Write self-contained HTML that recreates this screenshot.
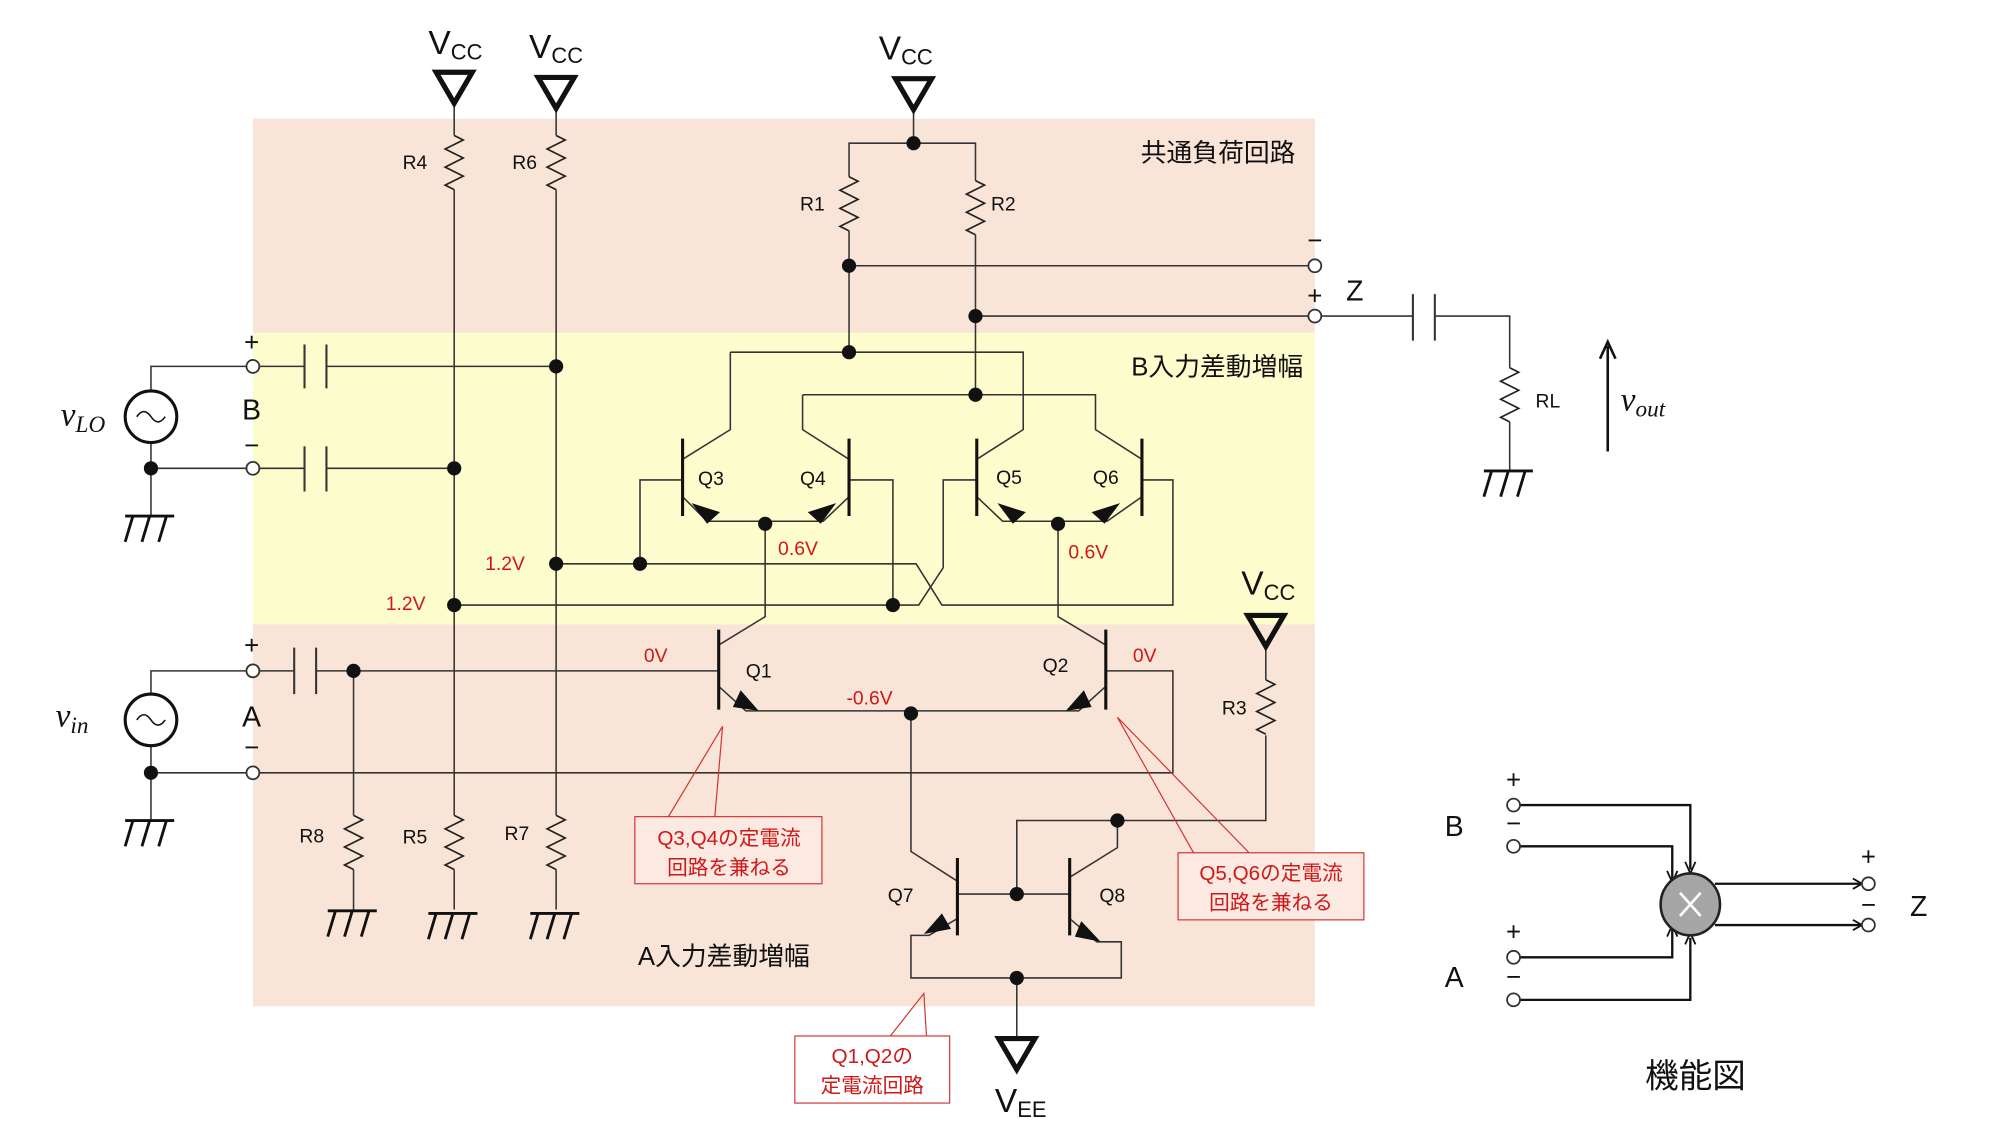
<!DOCTYPE html>
<html><head><meta charset="utf-8"><style>
html,body{margin:0;padding:0;background:#fff;}
svg{display:block;}
text{font-family:"Liberation Sans","Noto Sans CJK JP",sans-serif;}
</style></head><body>
<svg width="2000" height="1125" viewBox="0 0 1550 872" preserveAspectRatio="none" xmlns="http://www.w3.org/2000/svg">
<defs>
<path id="res" d="M0 0 l7 3.5 l-14 7 l14 7 l-14 7 l14 7 l-14 7 l7 3.5" fill="none" stroke="#222" stroke-width="1.3"/>
<path id="gnd" d="M-20 0 h38 M-14 0 l-6 20 M-1 0 l-6 20 M12 0 l-6 20" fill="none" stroke="#111" stroke-width="2.2"/>
<polygon id="vcc" points="-14,0 14,0 0,24" fill="none" stroke="#111" stroke-width="4" stroke-linejoin="miter"/>
</defs>
<rect x="196" y="92" width="823" height="166" fill="#f9e4d8"/>
<rect x="196" y="258" width="823" height="226" fill="#fdfccd"/>
<rect x="196" y="484" width="823" height="296" fill="#f9e4d8"/>

<g fill="none" stroke="#333" stroke-width="1.2">
<path d="M352 80 V105 M352 147 V632 M352 674 V705"/>
<path d="M431 84 V105 M431 147 V632 M431 674 V705"/>
<path d="M274 520 V632 M274 674 V705"/>
<path d="M708 85 V111 M658 137 V111 H756 V140 M658 179 V273 M756 182 V306"/>
<path d="M658 206 H1014 M756 245 H1014"/>
<path d="M566 273 H793 V333 L757 356"/>
<path d="M566 273 V333 L529 356"/>
<path d="M622 306 H849 V333 L885 356"/>
<path d="M622 306 V333 L658 356"/>
<path d="M529 385 L548 404 H638 L658 385"/>
<path d="M757 385 L777 404 H858 L885 385"/>
<path d="M529 372 H496 V437"/>
<path d="M658 372 H692 V469"/>
<path d="M757 372 H731 V440 L712 469 H352"/>
<path d="M885 372 H909 V469 H730 L710 437 H431"/>
<path d="M201 284 H236 M253 284 H431"/>
<path d="M201 363 H236 M253 363 H352"/>
<path d="M117 303 V284 H191 M117 343 V400 M117 363 H191"/>
<path d="M117 538 V520 H191 M117 578 V636 M117 599 H191 M201 599 H909 V520 H857"/>
<path d="M201 520 H228 M245 520 H557"/>
<path d="M593 406 V478 L557 500"/>
<path d="M820 406 V478 L857 500"/>
<path d="M557 532 L578 551 H836 L857 532"/>
<path d="M706 553 V660 L742 683"/>
<path d="M742 693 H829"/>
<path d="M829 680 L866 657 V636 H981 V570 M981 527 V500"/>
<path d="M788 693 V636 H866"/>
<path d="M742 712 L720 725 H706 V758 H869 V730 H850 L829 712"/>
<path d="M788 758 V805"/>
<path d="M1024 245 H1095 M1112 245 H1170 V285 M1170 327 V365"/>
</g>
<use href="#res" x="352" y="105"/><use href="#res" x="431" y="105"/>
<use href="#res" x="658" y="137"/><use href="#res" x="756" y="140"/>
<use href="#res" x="981" y="527"/><use href="#res" x="274" y="632"/>
<use href="#res" x="352" y="632"/><use href="#res" x="431" y="632"/>
<use href="#res" x="1170" y="285"/>
<use href="#gnd" x="117" y="400"/><use href="#gnd" x="117" y="636"/>
<use href="#gnd" x="274" y="706"/><use href="#gnd" x="352" y="708"/><use href="#gnd" x="431" y="708"/>
<use href="#gnd" x="1170" y="365"/>
<use href="#vcc" x="352" y="56"/><use href="#vcc" x="431" y="60"/><use href="#vcc" x="708" y="61"/>
<use href="#vcc" x="981" y="477"/>
<polygon points="774,805 802,805 788,829" fill="none" stroke="#111" stroke-width="4"/>
<g stroke="#333" stroke-width="1.6">
<path d="M236 267 V301 M253 267 V301 M236 346 V381 M253 346 V381 M228 502 V538 M245 502 V538 M1095 228 V264 M1112 228 V264"/>
</g>
<g stroke="#111" stroke-width="2.4">
<path d="M529 340 V400 M658 340 V400 M757 340 V400 M885 340 V400 M557 488 V550 M857 488 V550 M742 665 V725 M829 665 V725"/>
</g>
<g fill="#111">
<polygon points="548,406 536,390 558,397"/>
<polygon points="636,406 648,390 626,397"/>
<polygon points="785,406 773,390 795,397"/>
<polygon points="856,406 868,390 846,397"/>
<polygon points="588,551 574,535 568,548"/>
<polygon points="826,551 840,535 846,548"/>
<polygon points="716,724 730,708 737,720"/>
<polygon points="853,730 838,714 833,726"/>
</g>
<g fill="#111">
<circle cx="708" cy="111" r="5.5"/><circle cx="658" cy="206" r="5.5"/><circle cx="756" cy="245" r="5.5"/>
<circle cx="658" cy="273" r="5.5"/><circle cx="756" cy="306" r="5.5"/>
<circle cx="431" cy="284" r="5.5"/><circle cx="352" cy="363" r="5.5"/><circle cx="117" cy="363" r="5.5"/>
<circle cx="593" cy="406" r="5.5"/><circle cx="820" cy="406" r="5.5"/>
<circle cx="431" cy="437" r="5.5"/><circle cx="496" cy="437" r="5.5"/>
<circle cx="352" cy="469" r="5.5"/><circle cx="692" cy="469" r="5.5"/>
<circle cx="274" cy="520" r="5.5"/><circle cx="706" cy="553" r="5.5"/><circle cx="117" cy="599" r="5.5"/>
<circle cx="866" cy="636" r="5.5"/><circle cx="788" cy="693" r="5.5"/><circle cx="788" cy="758" r="5.5"/>
</g>
<g fill="#fff" stroke="#333" stroke-width="1.4">
<circle cx="196" cy="284" r="5"/><circle cx="196" cy="363" r="5"/>
<circle cx="196" cy="520" r="5"/><circle cx="196" cy="599" r="5"/>
<circle cx="1019" cy="206" r="5"/><circle cx="1019" cy="245" r="5"/>
</g>
<g fill="none" stroke="#111" stroke-width="2.4">
<circle cx="117" cy="323" r="20"/><circle cx="117" cy="558" r="20"/>
</g>
<g fill="none" stroke="#111" stroke-width="1.2">
<path d="M106 323 q5.5 -8 11 0 t11 0"/><path d="M106 558 q5.5 -8 11 0 t11 0"/>
</g>
<path d="M1246 350 V268" stroke="#111" stroke-width="2"/>
<path d="M1240 278 L1246 265 L1252 278" fill="none" stroke="#111" stroke-width="2"/>

<g fill="none" stroke="#d03030" stroke-width="0.9">
<path d="M518 633 L560 563 L554 633"/>
<rect x="492" y="633" width="145" height="52" fill="#fbe9e2"/>
<path d="M925 661 L866 556 L968 661"/>
<rect x="913" y="661" width="144" height="52" fill="#fbe9e2"/>
<path d="M690 803 L716 770 L718 803"/>
<rect x="616" y="803" width="120" height="52" fill="#fff"/>
</g>
<g fill="#d01818" font-size="16" text-anchor="middle">
<text x="565" y="655">Q3,Q4の定電流</text><text x="565" y="678">回路を兼ねる</text>
<text x="985" y="682">Q5,Q6の定電流</text><text x="985" y="705">回路を兼ねる</text>
<text x="676" y="824">Q1,Q2の</text><text x="676" y="847">定電流回路</text>
</g>
<g fill="#d01818" font-size="15">
<text x="376" y="442">1.2V</text><text x="299" y="473">1.2V</text>
<text x="603" y="430">0.6V</text><text x="828" y="433">0.6V</text>
<text x="499" y="513">0V</text><text x="656" y="546">-0.6V</text><text x="878" y="513">0V</text>
</g>
<g fill="#111" font-size="15">
<text x="541" y="376">Q3</text><text x="620" y="376">Q4</text><text x="772" y="375">Q5</text><text x="847" y="375">Q6</text>
<text x="578" y="525">Q1</text><text x="808" y="521">Q2</text><text x="688" y="699">Q7</text><text x="852" y="699">Q8</text>
<text x="312" y="131">R4</text><text x="397" y="131">R6</text><text x="620" y="163">R1</text><text x="768" y="163">R2</text>
<text x="947" y="554">R3</text><text x="232" y="653">R8</text><text x="312" y="654">R5</text><text x="391" y="651">R7</text>
<text x="1190" y="316">RL</text>
</g>
<g fill="#111" font-size="20" text-anchor="end">
<text x="1004" y="125">共通負荷回路</text>
<text x="1010" y="291">B入力差動増幅</text>
</g>
<text x="561" y="748" font-size="20" fill="#111" text-anchor="middle">A入力差動増幅</text>
<g fill="#111" font-size="26">
<text x="332" y="42">V<tspan font-size="17" dy="4">CC</tspan></text>
<text x="410" y="45">V<tspan font-size="17" dy="4">CC</tspan></text>
<text x="681" y="46">V<tspan font-size="17" dy="4">CC</tspan></text>
<text x="962" y="461">V<tspan font-size="17" dy="4">CC</tspan></text>
<text x="771" y="862">V<tspan font-size="17" dy="4">EE</tspan></text>
</g>
<g fill="#111" font-size="22" text-anchor="middle">
<text x="195" y="272" font-size="20">+</text><text x="195" y="325">B</text><text x="195" y="352" font-size="20">−</text>
<text x="195" y="507" font-size="20">+</text><text x="195" y="563">A</text><text x="195" y="586" font-size="20">−</text>
<text x="1019" y="193" font-size="20">−</text><text x="1019" y="236" font-size="20">+</text>
<text x="1050" y="233">Z</text>
</g>
<g fill="#111" font-style="italic" font-size="26">
<text x="47" y="330" style="font-family:'Liberation Serif',serif">v<tspan font-size="18" dy="5">LO</tspan></text>
<text x="43" y="563" style="font-family:'Liberation Serif',serif">v<tspan font-size="18" dy="5">in</tspan></text>
<text x="1256" y="318" style="font-family:'Liberation Serif',serif">v<tspan font-size="18" dy="5">out</tspan></text>
</g>

<g fill="none" stroke="#111" stroke-width="1.8">
<path d="M1178 624 H1310 V674"/>
<path d="M1178 656 H1296 V682"/>
<path d="M1178 742 H1296 V720"/>
<path d="M1178 775 H1310 V727"/>
<path d="M1329 685 H1442 M1329 717 H1442"/>
</g>
<g fill="none" stroke="#111" stroke-width="1.4">
<path d="M1306 668 L1310 677 L1314 668"/><path d="M1292 675 L1296 684 L1300 675"/>
<path d="M1292 726 L1296 717 L1300 726"/><path d="M1306 732 L1310 723 L1314 732"/>
<path d="M1436 681 L1443 685 L1436 689"/><path d="M1436 713 L1443 717 L1436 721"/>
</g>
<ellipse cx="1310" cy="701" rx="23" ry="24" fill="#a6a6a6" stroke="#222" stroke-width="2"/>
<path d="M1302 692 L1318 710 M1318 692 L1302 710" stroke="#fff" stroke-width="2"/>
<g fill="#fff" stroke="#333" stroke-width="1.4">
<circle cx="1173" cy="624" r="5"/><circle cx="1173" cy="656" r="5"/>
<circle cx="1173" cy="742" r="5"/><circle cx="1173" cy="775" r="5"/>
<circle cx="1448" cy="685" r="5"/><circle cx="1448" cy="717" r="5"/>
</g>
<g fill="#111" font-size="22" text-anchor="middle">
<text x="1173" y="611" font-size="20">+</text><text x="1173" y="645" font-size="20">−</text>
<text x="1173" y="729" font-size="20">+</text><text x="1173" y="764" font-size="20">−</text>
<text x="1448" y="671" font-size="20">+</text><text x="1448" y="708" font-size="20">−</text>
<text x="1127" y="648">B</text><text x="1127" y="765">A</text><text x="1487" y="710">Z</text>
<text x="1314" y="843" font-size="26">機能図</text>
</g>
</svg>
</body></html>
